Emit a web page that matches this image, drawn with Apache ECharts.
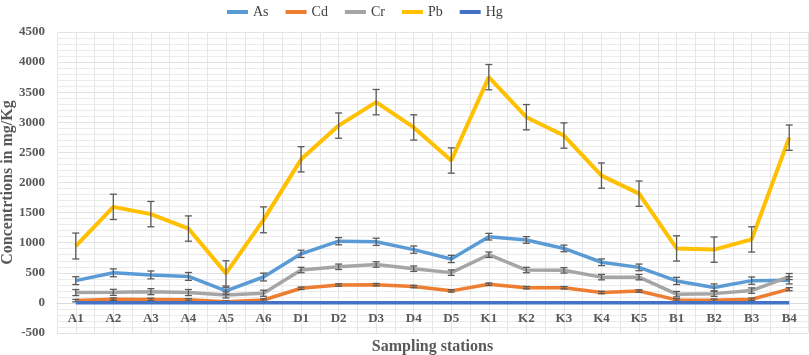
<!DOCTYPE html>
<html><head><meta charset="utf-8">
<script src="https://cdn.jsdelivr.net/npm/echarts@6/dist/echarts.min.js"></script>
<style>html,body{margin:0;padding:0;background:#fff}#c{width:809px;height:355px}</style>
</head><body><div id="c"></div>
<script>
var categories = ['A1','A2','A3','A4','A5','A6','D1','D2','D3','D4','D5','K1','K2','K3','K4','K5','B1','B2','B3','B4'];
var asVals = [370,500,465,440,200,430,815,1025,1015,885,730,1100,1045,905,675,590,365,255,370,375];
var cdVals = [38,62,58,52,18,48,243,298,303,272,200,310,253,252,172,198,50,45,60,228];
var crVals = [172,175,187,172,132,160,546,600,638,568,503,800,546,541,428,428,145,154,204,438];
var pbVals = [945,1595,1475,1235,490,1380,2385,2945,3335,2915,2365,3750,3085,2780,2115,1815,905,885,1055,2745];
var hgVals = [1,1,1,1,1,1,1,1,1,1,1,1,1,1,1,1,1,1,1,1];
var asErr = [65,65,65,65,60,65,60,60,60,60,60,55,55,55,55,55,60,60,60,60];
var cdErr = [20,20,20,20,15,20,20,20,20,20,20,20,20,20,20,20,20,20,20,25];
var crErr = [50,50,50,50,50,50,45,45,45,45,45,45,45,45,45,45,45,45,45,50];
var pbErr = [215,210,210,210,210,215,210,210,210,210,210,210,210,210,210,210,210,210,210,210];
var yTicks = {min:-500, max:4500, step:500};

var serif = '"Liberation Serif","Times New Roman",serif';
var gridTop = 32, gridBottom = 22, chartH = 355;
var plotH = chartH - gridTop - gridBottom;
var zeroOffset = plotH * (0 - yTicks.min) / (yTicks.max - yTicks.min);
var chart = echarts.init(document.getElementById('c'), null, {renderer:'canvas'});

function errSeries(name, vals, errs){
  return {
    type:'custom', name:name+'_err', xAxisIndex:0, yAxisIndex:0, z:5, silent:true,
    data: vals.map(function(v,i){return [i, v, errs[i]];}),
    renderItem: function(params, api){
      var i = api.value(0), v = api.value(1), e = api.value(2);
      var top = api.coord([i, v+e]), bot = api.coord([i, v-e]);
      var w = 3.5, st = {stroke:'#595959', lineWidth:1.3};
      return {type:'group', children:[
        {type:'line', shape:{x1:top[0],y1:top[1],x2:bot[0],y2:bot[1]}, style:st},
        {type:'line', shape:{x1:top[0]-w,y1:top[1],x2:top[0]+w,y2:top[1]}, style:st},
        {type:'line', shape:{x1:bot[0]-w,y1:bot[1],x2:bot[0]+w,y2:bot[1]}, style:st}
      ]};
    }
  };
}
function lineSeries(name, vals, color, w, z){
  return {type:'line', name:name, data:vals, symbol:'none', z:z,
    lineStyle:{color:color, width:w}, itemStyle:{color:color}};
}

var option = {
  animation:false,
  textStyle:{fontFamily:serif},
  legend:{
    left:222, top:0, itemWidth:21, itemHeight:4, itemGap:17, icon:'rect',
    textStyle:{fontFamily:serif, fontSize:14, color:'#404040'},
    data:['As','Cd','Cr','Pb','Hg']
  },
  grid:{left:57, right:1, top:gridTop, bottom:gridBottom, containLabel:false, outerBoundsMode:'none'},
  xAxis:[{
    type:'category', data:categories, boundaryGap:true, position:'bottom',
    offset:-zeroOffset,
    axisLine:{onZero:false, lineStyle:{color:'#d9d9d9'}},
    axisTick:{show:false},
    axisLabel:{fontFamily:serif, fontWeight:'bold', fontSize:13, color:'#595959', margin:9},
    splitLine:{show:false},
    name:'Sampling stations', nameLocation:'middle', nameGap:36, nameMoveOverlap:false,
    nameTextStyle:{fontFamily:serif, fontWeight:'bold', fontSize:16, color:'#595959'}
  },{
    type:'value', min:0, max:categories.length*2, interval:1, position:'top',
    axisLine:{show:false}, axisTick:{show:false}, axisLabel:{show:false},
    splitLine:{show:true, lineStyle:{color:'#e6e6e6', width:1}}
  }],
  yAxis:[{
    type:'value', min:yTicks.min, max:yTicks.max, interval:yTicks.step,
    axisLine:{show:false, onZero:false}, axisTick:{show:false},
    axisLabel:{fontFamily:serif, fontWeight:'bold', fontSize:13, color:'#595959', margin:12,
      formatter:function(v){return String(v);}},
    splitLine:{show:true, lineStyle:{color:'#e3e3e3', width:1}},
    minorTick:{show:false, splitNumber:5},
    minorSplitLine:{show:true, lineStyle:{color:'#ebebeb', width:1}},
    name:'Concentrtions in mg/Kg', nameLocation:'middle', nameGap:41, nameRotate:90, nameMoveOverlap:false,
    nameTextStyle:{fontFamily:serif, fontWeight:'bold', fontSize:16, color:'#595959'}
  }],
  series:[
    lineSeries('As', asVals, '#5b9bd5', 3.5, 2),
    lineSeries('Cd', cdVals, '#ed7d31', 3.5, 2),
    lineSeries('Cr', crVals, '#a5a5a5', 3.5, 2),
    lineSeries('Pb', pbVals, '#ffc000', 4, 2),
    errSeries('As', asVals, asErr),
    errSeries('Cd', cdVals, cdErr),
    errSeries('Cr', crVals, crErr),
    errSeries('Pb', pbVals, pbErr),
    lineSeries('Hg', hgVals, '#4472c4', 3.5, 6)
  ]
};
chart.setOption(option);
</script></body></html>
